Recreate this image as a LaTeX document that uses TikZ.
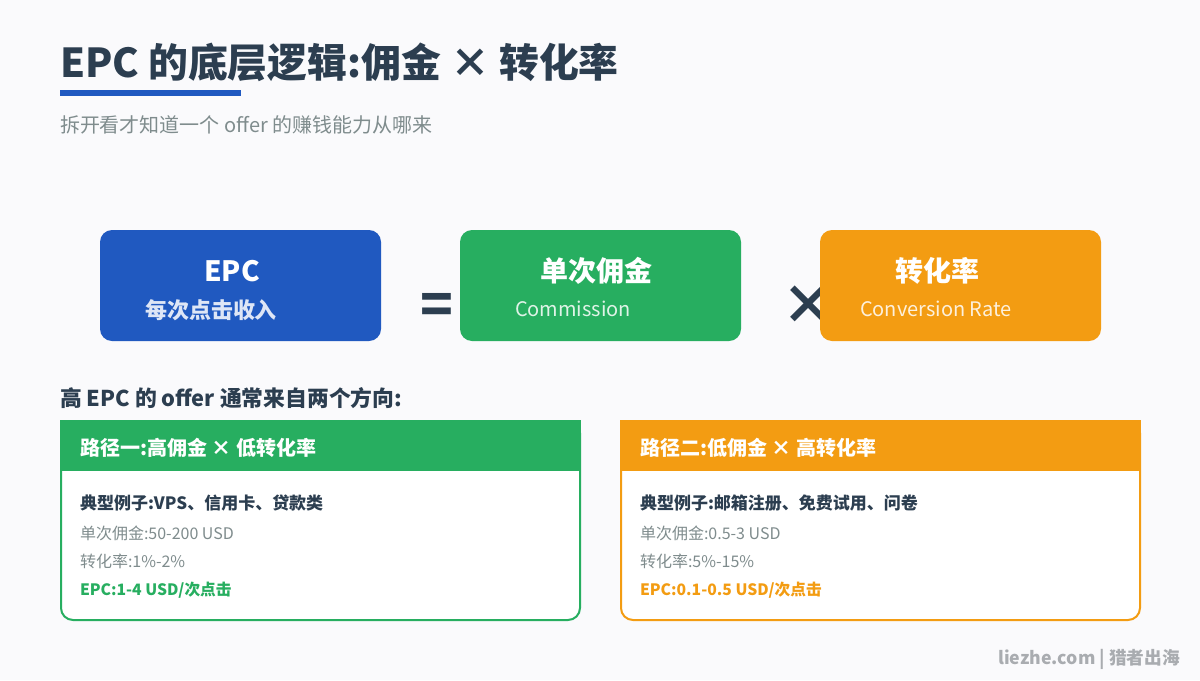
\documentclass[tikz,border=0pt]{standalone}
\usepackage{fontspec}
\setmainfont{Noto Sans CJK SC}
\usepackage{xcolor}
\definecolor{pagebg}{HTML}{FAFAFC}
\definecolor{inkdark}{HTML}{2C3E50}
\definecolor{inkgrey}{HTML}{7F8C8D}
\definecolor{inkfoot}{HTML}{A9ACB0}
\definecolor{epcblue}{HTML}{2059C0}
\definecolor{pathgreen}{HTML}{27AE60}
\definecolor{pathorange}{HTML}{F39C12}
\newcommand{\pxsize}[1]{\fontsize{\the\dimexpr#1pt*7113/10000\relax}{\the\dimexpr#1pt\relax}\selectfont}
\tikzset{
  textleft/.style={inner sep=0pt,outer sep=0pt,anchor=base west},
  textmid/.style={inner sep=0pt,outer sep=0pt,anchor=base},
  factor/.style={rectangle,rounded corners=0.3cm,inner sep=0pt,outer sep=0pt,minimum width=7.025cm,minimum height=2.775cm,anchor=north west},
  card/.style={rectangle,rounded corners=0.3cm,fill=white,line width=0.05cm,inner sep=0pt,outer sep=0pt,minimum width=12.975cm,minimum height=4.975cm,anchor=north west},
  cardhead/.style={rectangle,inner sep=0pt,outer sep=0pt,minimum width=13.025cm,minimum height=1.275cm,anchor=north west}
}
\begin{document}
\begin{tikzpicture}[yscale=-1]
  \fill[pagebg] (0,0) rectangle (30,17);
  \useasboundingbox (0,0) rectangle (30,17);
  % heading
  \node[textleft,text=inkdark,font=\pxsize{39.85}\bfseries] (title) at (1.5,1.925) {EPC 的底层逻辑:佣金 × 转化率};
  \fill[epcblue] (1.5,2.25) rectangle (6.025,2.4);
  \node[textleft,text=inkgrey,font=\pxsize{20}] (subtitle) at (1.5,3.3) {拆开看才知道一个 offer 的赚钱能力从哪来};
  % operators go under the boxes
  \node[textmid,text=inkdark,font=\pxsize{54}\bfseries] (equals) at (10.915,8.1) {=};
  \node[textmid,text=inkdark,font=\pxsize{54}\bfseries] (times) at (20.2,8.1) {×};
  % the three factors
  \node[factor,fill=epcblue] (epc) at (2.5,5.75) {};
  \node[factor,fill=pathgreen] (comm) at (11.5,5.75) {};
  \node[factor,fill=pathorange] (rate) at (20.5,5.75) {};
  \node[textmid,text=white,font=\pxsize{28}\bfseries] (epctitle) at (5.8,7.025) {EPC};
  \node[textleft,text=epcblue!15!white,font=\pxsize{22}\bfseries] (epcsub) at (3.625,7.95) {每次点击收入};
  \node[textmid,text=white,font=\pxsize{28}\bfseries] (commtitle) at (14.9,7.025) {单次佣金};
  \node[textleft,text=pathgreen!15!white,font=\pxsize{20}] (commsub) at (12.875,7.9) {Commission};
  \node[textmid,text=white,font=\pxsize{28}\bfseries] (ratetitle) at (23.425,7.025) {转化率};
  \node[textleft,text=pathorange!15!white,font=\pxsize{20}] (ratesub) at (21.5,7.9) {Conversion Rate};
  % the two paths
  \node[textleft,text=inkdark,font=\pxsize{21.8}\bfseries] (pathintro) at (1.5,10.15) {高 EPC 的 offer 通常来自两个方向:};
  \node[card,draw=pathgreen] (cardone) at (1.525,10.525) {};
  \node[cardhead,fill=pathgreen] (headone) at (1.5,10.5) {};
  \node[textleft,text=white,font=\pxsize{20}\bfseries] (headonetext) at (2,11.375) {路径一:高佣金 × 低转化率};
  \node[textleft,text=inkdark,font=\pxsize{17}\bfseries] (oneexample) at (2,12.725) {典型例子:VPS、信用卡、贷款类};
  \node[textleft,text=inkgrey,font=\pxsize{16}] (onecomm) at (2,13.475) {单次佣金:50-200 USD};
  \node[textleft,text=inkgrey,font=\pxsize{16}] (onerate) at (2,14.175) {转化率:1\%-2\%};
  \node[textleft,text=pathgreen,font=\pxsize{15.7}\bfseries] (oneepc) at (2,14.875) {EPC:1-4 USD/次点击};
  \node[card,draw=pathorange] (cardtwo) at (15.525,10.525) {};
  \node[cardhead,fill=pathorange] (headtwo) at (15.5,10.5) {};
  \node[textleft,text=white,font=\pxsize{20}\bfseries] (headtwotext) at (16,11.375) {路径二:低佣金 × 高转化率};
  \node[textleft,text=inkdark,font=\pxsize{17}\bfseries] (twoexample) at (16,12.725) {典型例子:邮箱注册、免费试用、问卷};
  \node[textleft,text=inkgrey,font=\pxsize{16}] (twocomm) at (16,13.475) {单次佣金:0.5-3 USD};
  \node[textleft,text=inkgrey,font=\pxsize{16}] (tworate) at (16,14.175) {转化率:5\%-15\%};
  \node[textleft,text=pathorange,font=\pxsize{15.7}\bfseries] (twoepc) at (16,14.875) {EPC:0.1-0.5 USD/次点击};
  % footer
  \node[inner sep=0pt,outer sep=0pt,anchor=base east,text=inkfoot,font=\pxsize{17.7}\bfseries] (footer) at (29.5,16.6) {liezhe.com | 猎者出海};
\end{tikzpicture}
\end{document}
